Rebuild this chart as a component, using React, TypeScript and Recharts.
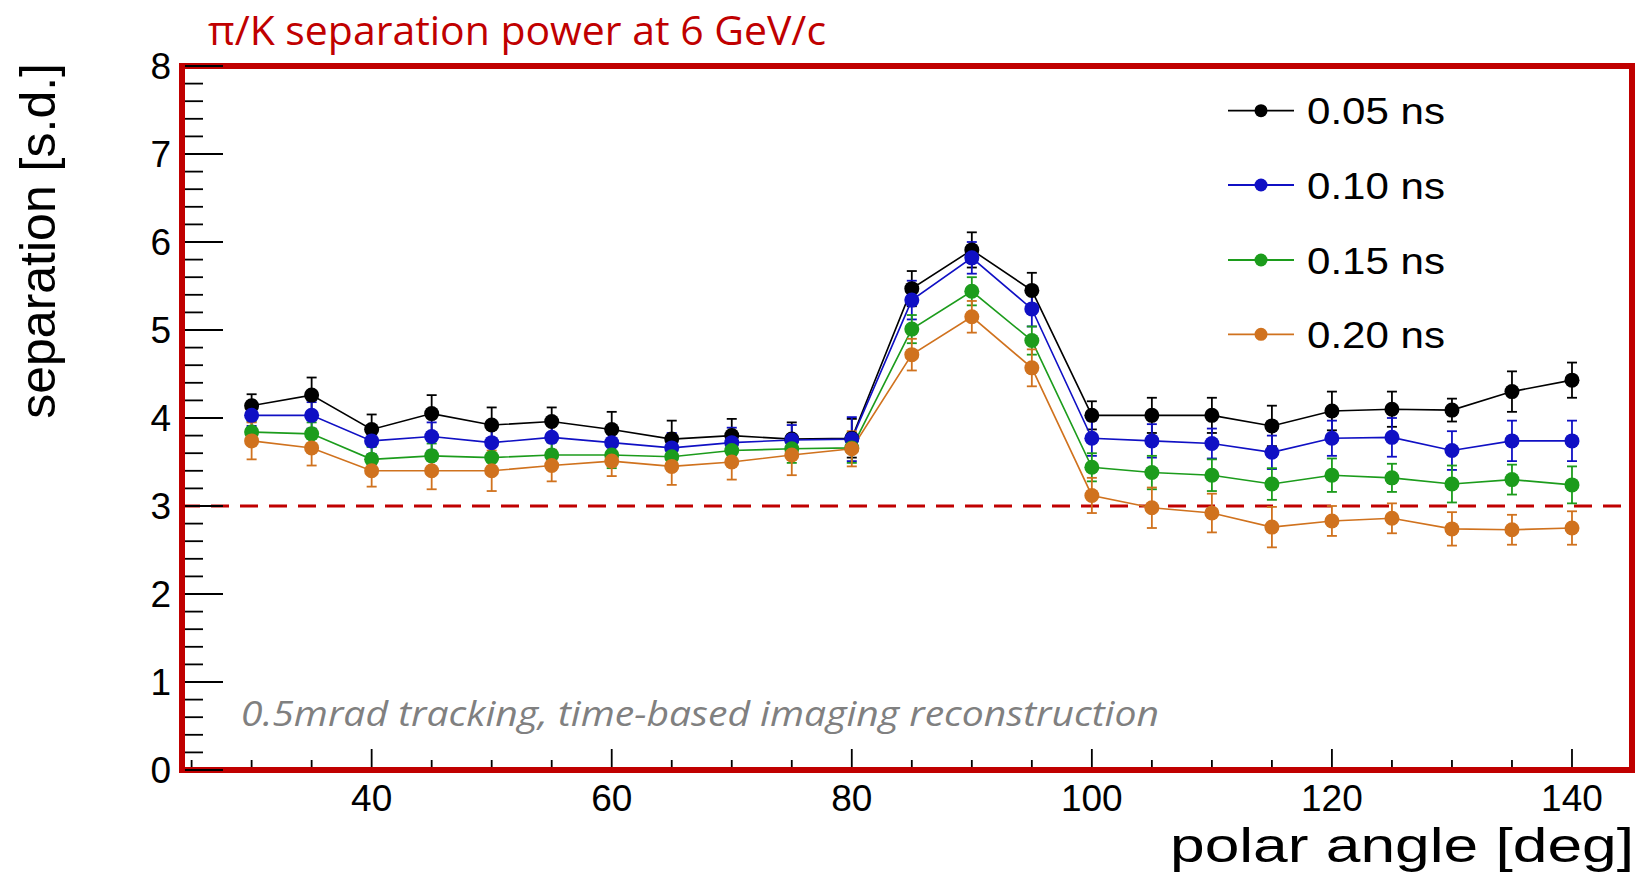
import { LineChart, Line, XAxis, YAxis, ErrorBar, ReferenceLine, ReferenceArea } from "recharts";

// polar angle [deg]
const angles = [30, 35, 40, 45, 50, 55, 60, 65, 70, 75, 80, 85, 90, 95, 100, 105, 110, 115, 120, 125, 130, 135, 140];

// separation [s.d.] per timing resolution
const sep005 = [4.14, 4.26, 3.87, 4.05, 3.92, 3.96, 3.87, 3.76, 3.8, 3.76, 3.77, 5.47, 5.91, 5.45, 4.03, 4.03, 4.03, 3.91, 4.08, 4.1, 4.09, 4.3, 4.43];
const sep010 = [4.03, 4.03, 3.74, 3.79, 3.72, 3.78, 3.72, 3.66, 3.72, 3.75, 3.76, 5.34, 5.82, 5.24, 3.77, 3.74, 3.71, 3.61, 3.77, 3.78, 3.63, 3.74, 3.74];
const sep015 = [3.84, 3.82, 3.53, 3.57, 3.55, 3.58, 3.58, 3.56, 3.63, 3.65, 3.66, 5.01, 5.44, 4.88, 3.44, 3.38, 3.35, 3.25, 3.35, 3.32, 3.25, 3.3, 3.24];
const sep020 = [3.74, 3.66, 3.4, 3.4, 3.4, 3.46, 3.51, 3.45, 3.5, 3.58, 3.65, 4.72, 5.15, 4.57, 3.12, 2.98, 2.92, 2.76, 2.83, 2.86, 2.74, 2.73, 2.75];

// symmetric errors
const err005 = [0.13, 0.2, 0.17, 0.21, 0.2, 0.16, 0.2, 0.21, 0.19, 0.19, 0.22, 0.2, 0.2, 0.2, 0.16, 0.2, 0.2, 0.23, 0.22, 0.2, 0.13, 0.23, 0.2];
const err010 = [0.12, 0.15, 0.15, 0.16, 0.16, 0.15, 0.16, 0.17, 0.17, 0.17, 0.25, 0.22, 0.18, 0.2, 0.2, 0.19, 0.17, 0.19, 0.2, 0.22, 0.22, 0.23, 0.23];
const err015 = [0.12, 0.13, 0.14, 0.14, 0.14, 0.14, 0.15, 0.15, 0.15, 0.16, 0.17, 0.16, 0.16, 0.16, 0.16, 0.19, 0.18, 0.18, 0.19, 0.16, 0.21, 0.17, 0.21];
const err020 = [0.21, 0.2, 0.18, 0.21, 0.23, 0.18, 0.17, 0.21, 0.2, 0.23, 0.2, 0.18, 0.18, 0.21, 0.2, 0.23, 0.22, 0.23, 0.17, 0.17, 0.19, 0.17, 0.19];

const seriesNames = ["0.05 ns", "0.10 ns", "0.15 ns", "0.20 ns"];
const seriesColors = ["#000000", "#1010c4", "#1c9c1c", "#d0721e"];
const seriesValues = [sep005, sep010, sep015, sep020];
const seriesErrors = [err005, err010, err015, err020];

const xMajor = [40, 60, 80, 100, 120, 140];
const xTicks = [25, 30, 35, 40, 45, 50, 55, 60, 65, 70, 75, 80, 85, 90, 95, 100, 105, 110, 115, 120, 125, 130, 135, 140];
const yMajor = [0, 1, 2, 3, 4, 5, 6, 7, 8];
const yTicks = yMajor.flatMap((v, i) =>
  i === yMajor.length - 1 ? [v] : [v, v + 0.2, v + 0.4, v + 0.6, v + 0.8]
);

const X_DOMAIN: [number, number] = [24.2, 145];
const FRAME_RED = "#c00000";
const HELV = "'Liberation Sans', Arial, Helvetica, sans-serif";
const CAL = "'Open Sans', 'Noto Sans', sans-serif";

const rows = angles.map((angle, i) => {
  const row: Record<string, number> = { angle };
  seriesValues.forEach((vals, k) => {
    row[`v${k}`] = vals[i];
    row[`e${k}`] = seriesErrors[k][i];
  });
  return row;
});

function XTick(props: any) {
  const { x, y, payload } = props;
  const major = xMajor.includes(payload.value);
  return (
    <g>
      <line x1={x} x2={x} y1={y - 3} y2={y - (major ? 21 : 10)} stroke="#000" strokeWidth={1.8} />
      {major && (
        <text x={x} y={y + 41} textAnchor="middle" fontSize={37} fontFamily={HELV} fill="#000">
          {payload.value}
        </text>
      )}
    </g>
  );
}

function YTick(props: any) {
  const { x, y, payload } = props;
  const major = yMajor.includes(payload.value);
  return (
    <g>
      <line x1={x + 3} x2={x + (major ? 41 : 21)} y1={y} y2={y} stroke="#000" strokeWidth={1.8} />
      {major && (
        <text x={x - 11} y={y + 13} textAnchor="end" fontSize={37} fontFamily={HELV} fill="#000">
          {payload.value}
        </text>
      )}
    </g>
  );
}

export default function App() {
  const legendY = [110.7, 185, 260, 334.3];
  return (
    <div style={{ position: "absolute", left: 0, top: 0, width: 1640, height: 872, background: "#fff" }}>
      <LineChart width={1640} height={872} data={rows} margin={{ top: 66, right: 8, bottom: 42, left: 122 }}>
        <XAxis
          dataKey="angle"
          type="number"
          domain={X_DOMAIN}
          allowDataOverflow
          ticks={xTicks}
          interval={0}
          height={60}
          tickSize={0}
          tickMargin={0}
          axisLine={false}
          tickLine={false}
          tick={(p: any) => <XTick {...p} />}
        />
        <YAxis
          type="number"
          domain={[0, 8]}
          allowDataOverflow
          ticks={yTicks}
          interval={0}
          width={60}
          tickSize={0}
          tickMargin={0}
          axisLine={false}
          tickLine={false}
          tick={(p: any) => <YTick {...p} />}
        />
        <ReferenceLine y={3} stroke={FRAME_RED} strokeWidth={3} strokeDasharray="18 11" />
        {seriesNames.map((name, k) => (
          <Line
            key={name}
            name={name}
            type="linear"
            dataKey={`v${k}`}
            stroke={seriesColors[k]}
            strokeWidth={1.6}
            dot={{ r: 7.5, fill: seriesColors[k], stroke: seriesColors[k], strokeWidth: 0 }}
            activeDot={false}
            isAnimationActive={false}
          >
            <ErrorBar
              dataKey={`e${k}`}
              direction="y"
              width={5}
              stroke={seriesColors[k]}
              strokeWidth={1.8}
              isAnimationActive={false}
            />
          </Line>
        ))}
        <ReferenceArea
          x1={X_DOMAIN[0]}
          x2={X_DOMAIN[1]}
          y1={0}
          y2={8}
          fill="none"
          fillOpacity={0}
          stroke={FRAME_RED}
          strokeWidth={6}
        />
      </LineChart>
      <svg
        width={1640}
        height={872}
        style={{ position: "absolute", left: 0, top: 0, pointerEvents: "none" }}
      >
        <text x={208} y={45} fontFamily={CAL} fontSize={40} fill={FRAME_RED} textLength={618} lengthAdjust="spacingAndGlyphs">
          π/K separation power at 6 GeV/c
        </text>
        <text
          x={241}
          y={726}
          fontFamily={CAL}
          fontStyle="italic"
          fontSize={34}
          fill="#808080"
          textLength={918}
          lengthAdjust="spacingAndGlyphs"
        >
          0.5mrad tracking, time-based imaging reconstruction
        </text>
        <text x={54.5} y={63} transform="rotate(-90 54.5 63)" textAnchor="end" fontFamily={HELV} fontSize={50} fill="#000">
          separation [s.d.]
        </text>
        <text
          x={1634}
          y={862}
          textAnchor="end"
          fontFamily={HELV}
          fontSize={48}
          fill="#000"
          textLength={464}
          lengthAdjust="spacingAndGlyphs"
        >
          polar angle [deg]
        </text>
        {seriesNames.map((name, k) => (
          <g key={name}>
            <line x1={1228} x2={1294} y1={legendY[k]} y2={legendY[k]} stroke={seriesColors[k]} strokeWidth={1.8} />
            <circle cx={1261} cy={legendY[k]} r={6.5} fill={seriesColors[k]} />
            <text
              x={1307}
              y={legendY[k] + 13.5}
              fontFamily={HELV}
              fontSize={37}
              fill="#000"
              textLength={138}
              lengthAdjust="spacingAndGlyphs"
            >
              {name}
            </text>
          </g>
        ))}
      </svg>
    </div>
  );
}
